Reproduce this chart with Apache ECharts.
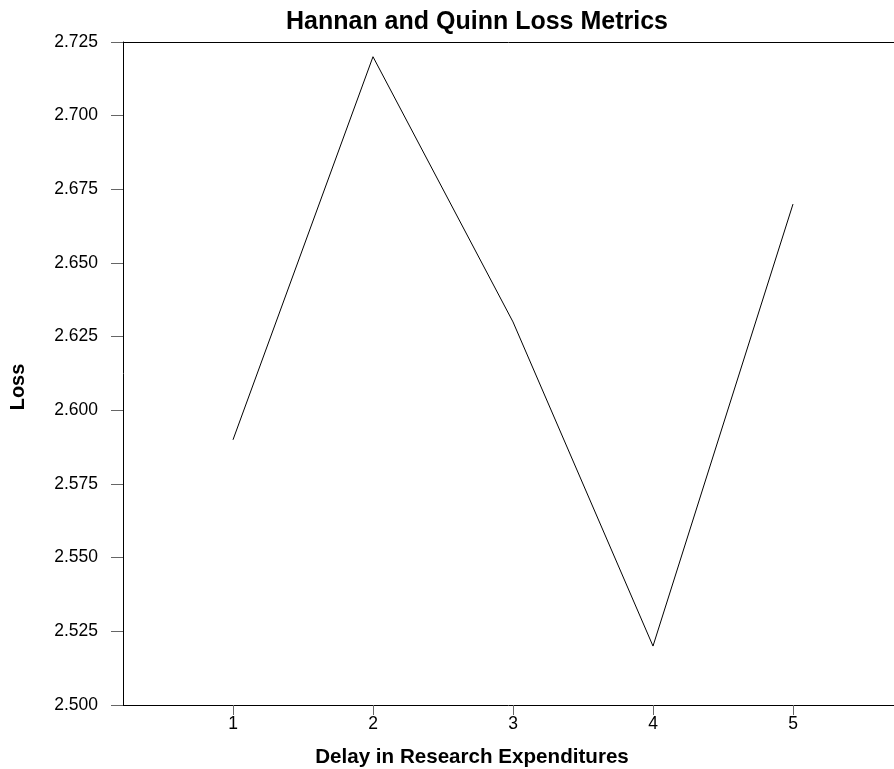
<!DOCTYPE html>
<html>
<head>
<meta charset="utf-8">
<script src="https://cdn.jsdelivr.net/npm/echarts@6/dist/echarts.min.js"></script>
<style>
  html, body { margin: 0; padding: 0; background: #ffffff; }
  #chart { width: 894px; height: 769px; }
</style>
</head>
<body>
<div id="chart"></div>
<script>
// Loss per delay length
const delays = [1, 2, 3, 4, 5];
const lossValues = [2.59, 2.72, 2.63, 2.52, 2.67];

// Axis ranges and tick values
const xTicks = [1, 2, 3, 4, 5];
const xRange = [0.2143, 5.7214];
const yRange = [2.5, 2.725];
const yStep = 0.025;

const FONT = 'Liberation Sans, Arial, sans-serif';

const chart = echarts.init(document.getElementById('chart'), null, { renderer: 'canvas' });

chart.setOption({
  backgroundColor: '#ffffff',
  animation: false,
  title: [
    {
      text: 'Hannan and Quinn Loss Metrics',
      left: 472,
      top: 5,
      textAlign: 'center',
      textStyle: { fontFamily: FONT, fontSize: 25, fontWeight: 'bold', color: '#000' }
    },
    {
      text: 'Delay in Research Expenditures',
      left: 467,
      top: 742,
      textAlign: 'center',
      textStyle: { fontFamily: FONT, fontSize: 20.6, fontWeight: 'bold', color: '#000' }
    }
  ],
  graphic: [
    {
      type: 'text',
      x: 18,
      y: 387,
      rotation: Math.PI / 2,
      style: {
        text: 'Loss',
        font: 'bold 20px ' + FONT,
        fill: '#000',
        align: 'center',
        verticalAlign: 'middle'
      }
    }
  ],
  grid: { left: 123, top: 42, bottom: 64, right: 0, containLabel: false },
  xAxis: [
    {
      type: 'value',
      position: 'bottom',
      min: xRange[0],
      max: xRange[1],
      axisLine: { show: true, lineStyle: { color: '#000', width: 1 } },
      axisTick: { show: true, length: 10, customValues: xTicks, lineStyle: { color: '#666', width: 1 } },
      axisLabel: {
        show: true, margin: 10, customValues: xTicks,
        fontFamily: FONT, fontSize: 17.5, color: '#000',
        formatter: v => String(Math.round(v))
      },
      splitLine: { show: false }
    },
    {
      type: 'value',
      position: 'top',
      min: xRange[0],
      max: xRange[1],
      axisLine: { show: true, onZero: false, lineStyle: { color: '#000', width: 1 } },
      axisTick: { show: false },
      axisLabel: { show: false },
      splitLine: { show: false }
    }
  ],
  yAxis: {
    type: 'value',
    min: yRange[0],
    max: yRange[1],
    interval: yStep,
    axisLine: { show: true, onZero: false, lineStyle: { color: '#000', width: 1 } },
    axisTick: { show: true, length: 12, lineStyle: { color: '#666', width: 1 } },
    axisLabel: {
      margin: 25,
      fontFamily: FONT, fontSize: 17.5, color: '#000',
      formatter: v => v.toFixed(3)
    },
    splitLine: { show: false }
  },
  series: [
    {
      type: 'line',
      xAxisIndex: 0,
      data: delays.map((d, i) => [d, lossValues[i]]),
      showSymbol: false,
      symbol: 'none',
      lineStyle: { color: '#000', width: 1 },
      silent: true
    }
  ]
});
</script>
</body>
</html>
